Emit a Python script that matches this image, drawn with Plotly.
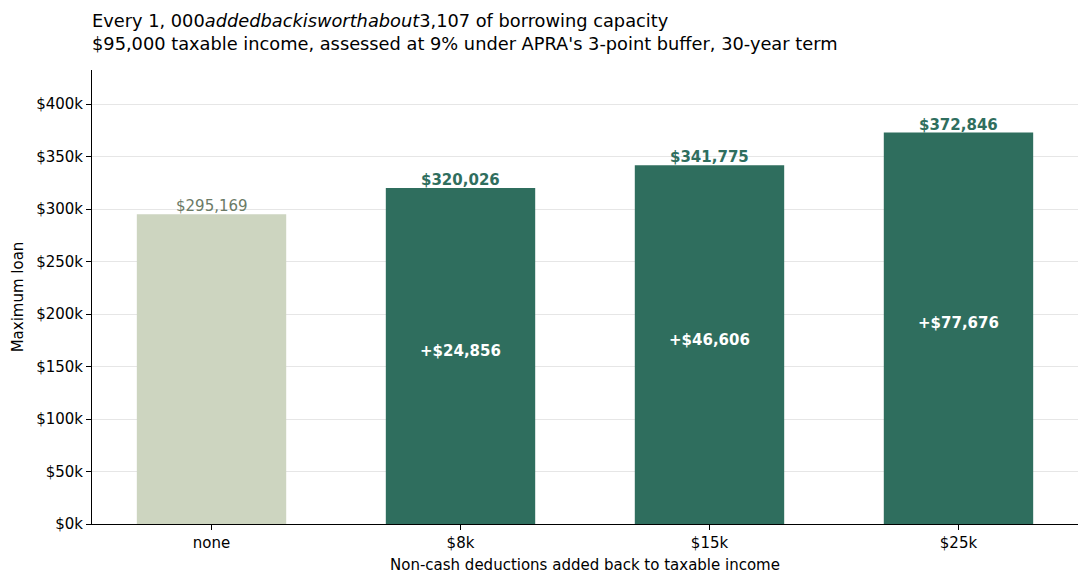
import plotly.graph_objects as go

categories = ["none", "$8k", "$15k", "$25k"]
max_loan = [295169, 320026, 341775, 372846]
uplift = [None, 24856, 46606, 77676]
y_ticks = [0, 50000, 100000, 150000, 200000, 250000, 300000, 350000, 400000]
y_tick_labels = ["$0k", "$50k", "$100k", "$150k", "$200k", "$250k", "$300k", "$350k", "$400k"]
title_lines = [
    "Every 1, 000<i>addedbackisworthabout</i>3,107 of borrowing capacity",
    "$95,000 taxable income, assessed at 9% under APRA's 3-point buffer, 30-year term",
]

base_color = "#cdd5c0"
addback_color = "#2f6e5e"
font_family = "DejaVu Sans"

x_pos = list(range(len(categories)))
colors = [base_color] + [addback_color] * (len(categories) - 1)

fig = go.Figure()
fig.add_trace(go.Bar(x=x_pos, y=max_loan, width=0.6, marker=dict(color=colors, line=dict(width=0)),
                     showlegend=False, hoverinfo="skip"))

# value labels on top of bars
for i, v in enumerate(max_loan):
    if i == 0:
        txt = f"${v:,}"
        col = "#6b7a66"
    else:
        txt = f"<b>${v:,}</b>"
        col = addback_color
    fig.add_annotation(x=i, y=v, text=txt, showarrow=False, yanchor="bottom", yshift=-3,
                       font=dict(family=font_family, size=15, color=col))

# uplift labels inside the bars
for i, u in enumerate(uplift):
    if u is None:
        continue
    fig.add_annotation(x=i, y=max_loan[i] / 2, text=f"<b>+${u:,}</b>", showarrow=False,
                       yshift=5, font=dict(family=font_family, size=15, color="white"))

# two-line title, placed above the plot area
for line, shift in zip(title_lines, [50, 27]):
    fig.add_annotation(xref="paper", yref="paper", x=0, y=1, xanchor="left", yanchor="middle",
                       xshift=-2, yshift=shift, text=line, showarrow=False,
                       font=dict(family=font_family, size=17.8, color="black"))

fig.update_layout(
    width=1080, height=575,
    margin=dict(l=84, r=10, t=62, b=59),
    paper_bgcolor="white", plot_bgcolor="white",
    font=dict(family=font_family, size=15, color="black"),
    bargap=0.4,
)
fig.update_xaxes(
    range=[-0.48, 3.48], tickvals=x_pos, ticktext=categories,
    showline=True, linecolor="black", linewidth=1, ticks="outside", ticklen=5,
    tickcolor="black", showgrid=False, zeroline=False,
    title=dict(text="Non-cash deductions added back to taxable income", standoff=8,
               font=dict(size=15)),
)
fig.update_yaxes(
    range=[0, 432500], tickvals=y_ticks, ticktext=y_tick_labels,
    showline=True, linecolor="black", linewidth=1, ticks="outside", ticklen=5,
    tickcolor="black", showgrid=True, gridcolor="#e6e6e6", zeroline=False,
    title=dict(text="Maximum loan", standoff=8, font=dict(size=15)),
)

fig.write_html("out.html")
